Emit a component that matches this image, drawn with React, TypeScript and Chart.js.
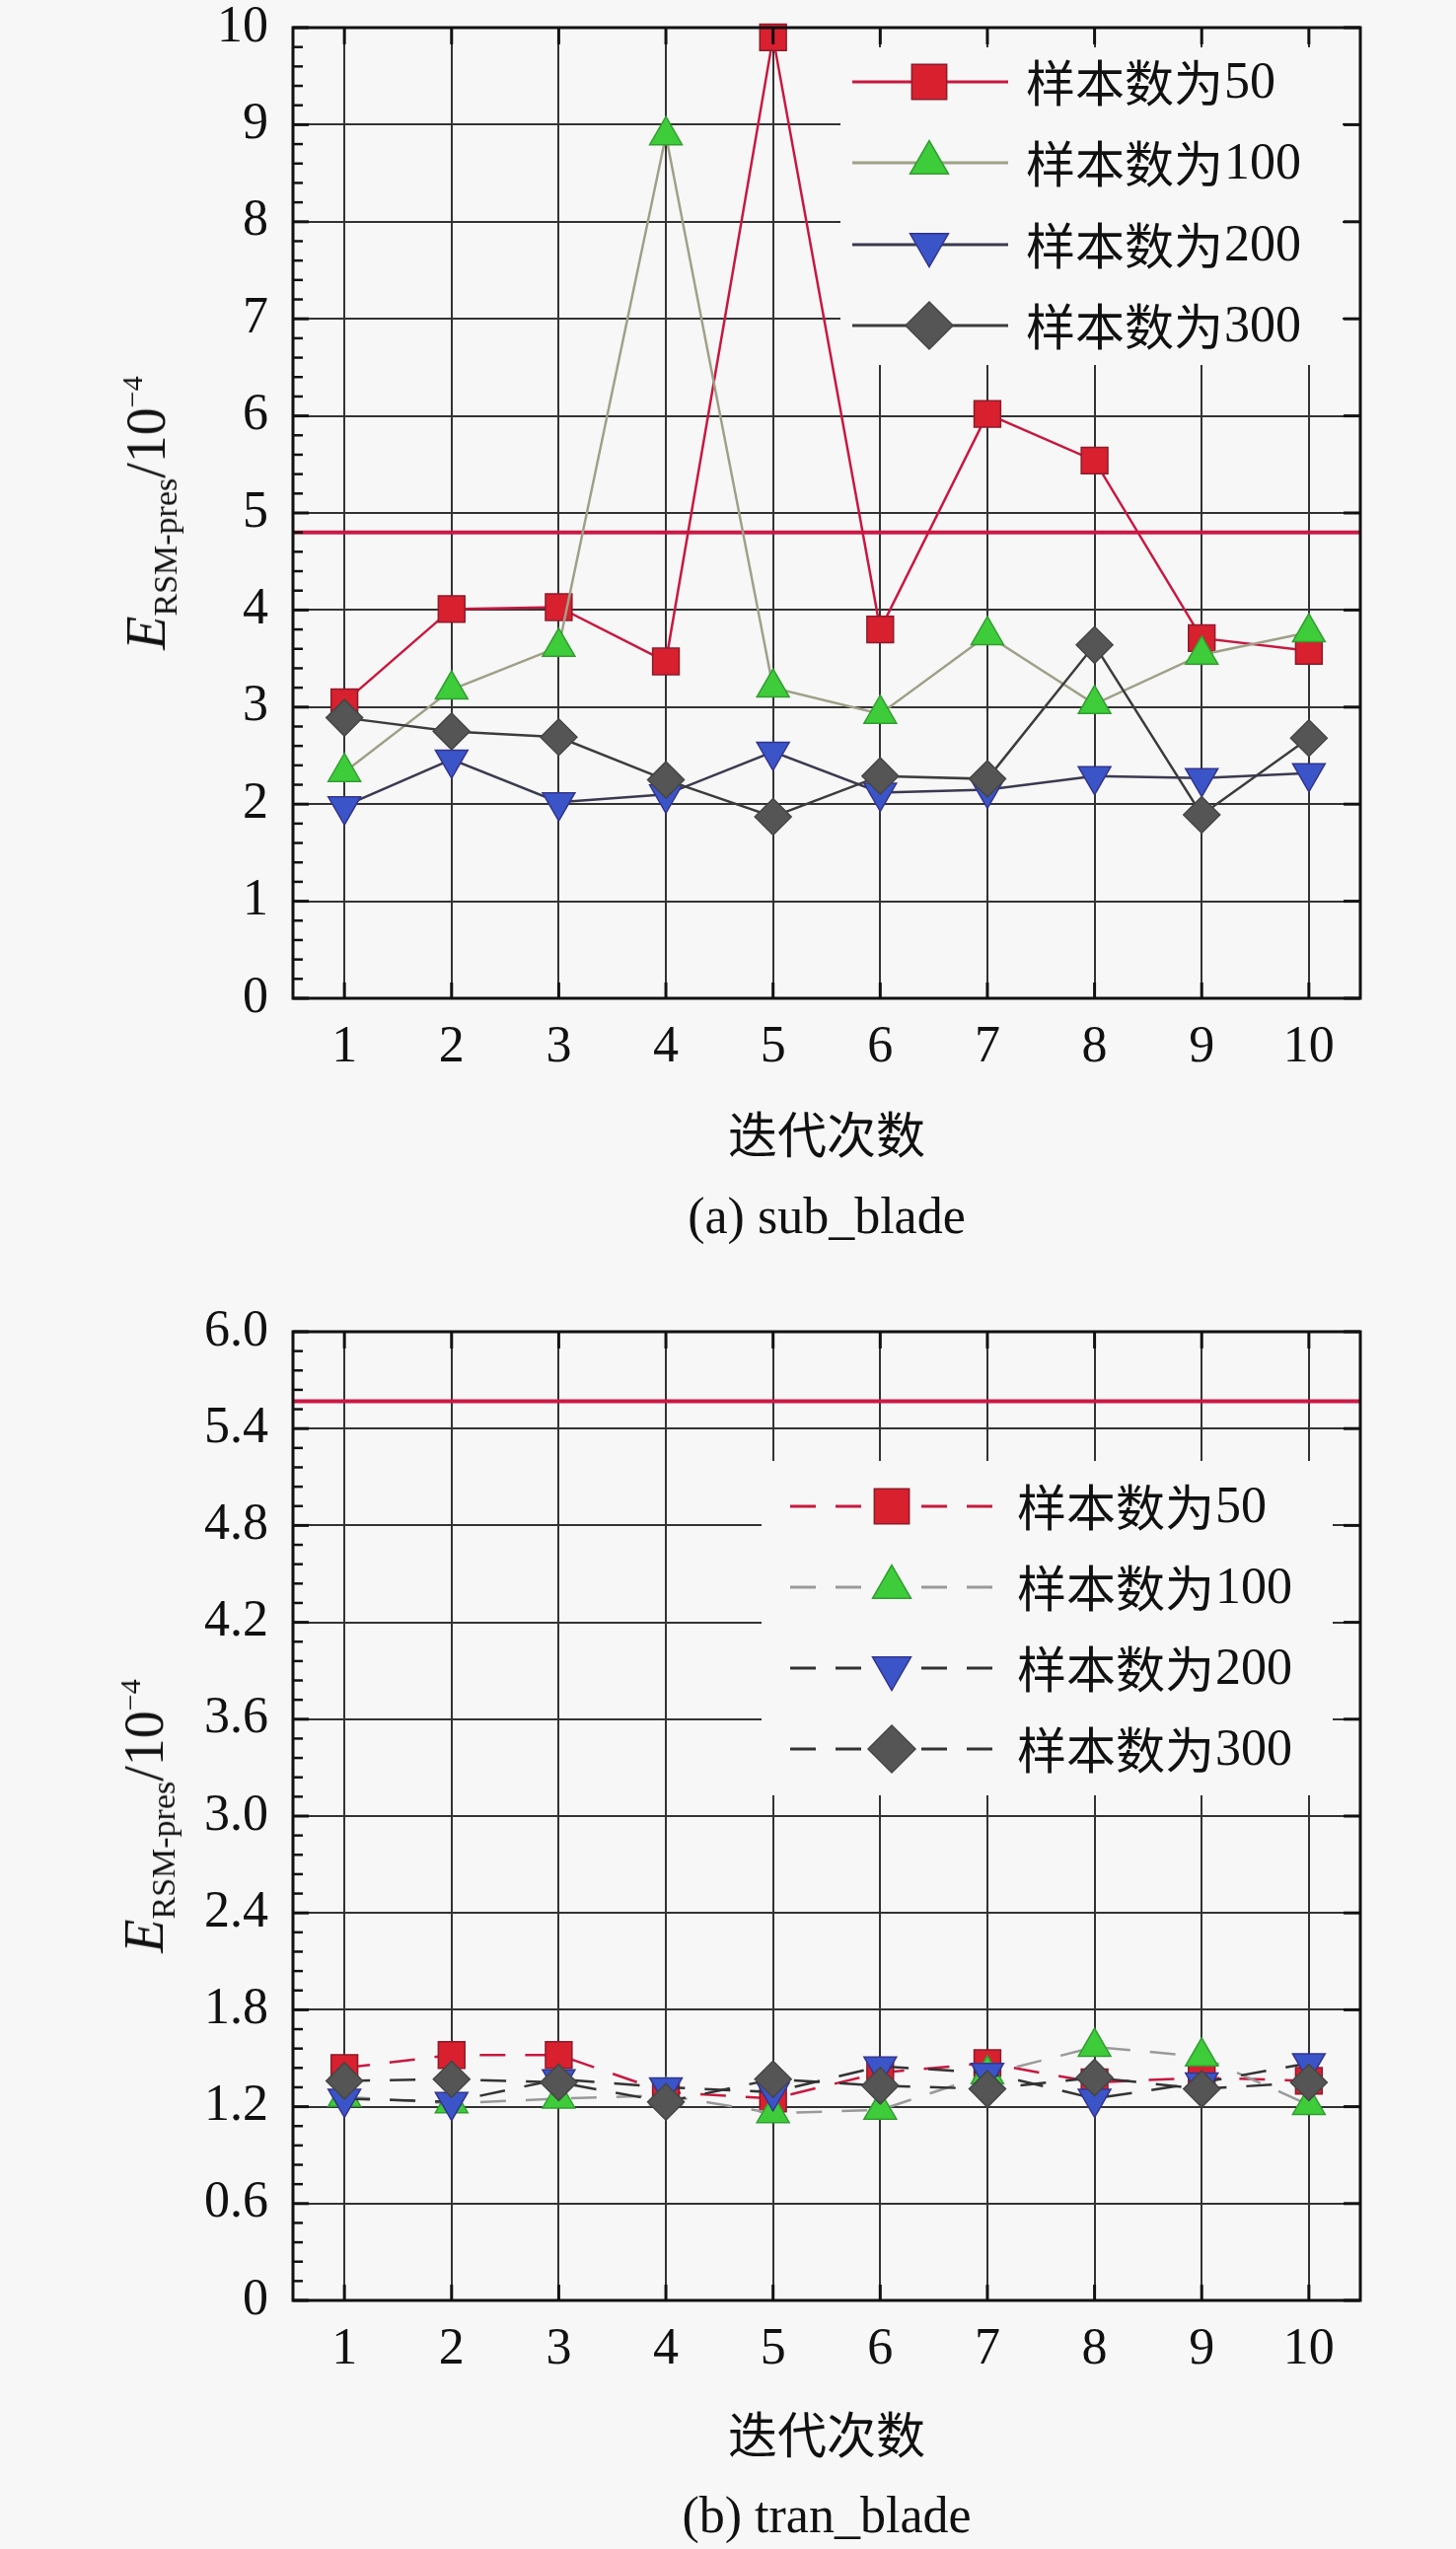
import React, { useEffect, useRef } from 'react';
import { Chart, registerables } from 'chart.js';
import { drawPoint } from 'chart.js/helpers';

Chart.register(...registerables);

// iteration number on x
const ITERATIONS = [1, 2, 3, 4, 5, 6, 7, 8, 9, 10];
const SERIES_LABELS = ['样本数为50', '样本数为100', '样本数为200', '样本数为300'];

// (a) sub_blade, unit 1e-4
const SUB_50 = [3.05, 4.01, 4.03, 3.47, 9.9, 3.8, 6.02, 5.54, 3.71, 3.58];
const SUB_100 = [2.33, 3.18, 3.62, 8.89, 3.2, 2.93, 3.74, 3.03, 3.54, 3.77];
const SUB_200 = [1.98, 2.46, 2.02, 2.1, 2.54, 2.12, 2.15, 2.29, 2.27, 2.32];
const SUB_300 = [2.89, 2.75, 2.69, 2.25, 1.87, 2.29, 2.26, 3.64, 1.89, 2.68];
const SUB_LIMIT = 4.8;
const SUB_Y_TICKS = [0, 1, 2, 3, 4, 5, 6, 7, 8, 9, 10];
const SUB_Y_LABELS = ['0', '1', '2', '3', '4', '5', '6', '7', '8', '9', '10'];

// (b) tran_blade
const TRAN_50 = [1.44, 1.52, 1.52, 1.29, 1.25, 1.41, 1.47, 1.35, 1.38, 1.36];
const TRAN_100 = [1.26, 1.22, 1.25, 1.27, 1.16, 1.18, 1.4, 1.57, 1.51, 1.21];
const TRAN_200 = [1.25, 1.23, 1.37, 1.32, 1.29, 1.45, 1.41, 1.25, 1.35, 1.47];
const TRAN_300 = [1.36, 1.37, 1.35, 1.23, 1.37, 1.33, 1.31, 1.38, 1.31, 1.35];
const TRAN_LIMIT = 5.57;
const TRAN_Y_TICKS = [0, 0.6, 1.2, 1.8, 2.4, 3.0, 3.6, 4.2, 4.8, 5.4, 6.0];
const TRAN_Y_LABELS = ['0', '0.6', '1.2', '1.8', '2.4', '3.0', '3.6', '4.2', '4.8', '5.4', '6.0'];

const BG = '#f7f7f7';
const SERIF = '"Liberation Serif", "Noto Sans CJK SC", serif';
const CJK = '"Noto Sans CJK SC", sans-serif';

const MARKERS = [
    { style: 'rect', fill: '#d8202f', edge: '#8e1b2b', rot: 0, r: 19, legendR: 25 },
    { style: 'triangle', fill: '#3fcc3a', edge: '#2f9e2f', rot: 0, r: 19, legendR: 22.5 },
    { style: 'triangle', fill: '#3b55c9', edge: '#34348e', rot: 180, r: 19, legendR: 22.5 },
    { style: 'rectRot', fill: '#555555', edge: '#454545', rot: 0, r: 18.5, legendR: 24 },
];

interface LegendLayout {
    box: [number, number, number, number];
    rows: number[];
    lineX0: number;
    lineX1: number;
    markerX: number;
    textX: number;
}

interface PanelProps {
    top: number;
    height: number;
    padTop: number;
    plotH: number;
    series: number[][];
    lineColors: string[];
    dash: number[];
    limit: number;
    yTicks: number[];
    yLabels: string[];
    legend: LegendLayout;
}

const line = (ctx: CanvasRenderingContext2D, x0: number, y0: number, x1: number, y1: number) => {
    ctx.beginPath();
    ctx.moveTo(x0, y0);
    ctx.lineTo(x1, y1);
    ctx.stroke();
};

const Panel: React.FC<PanelProps> = (p) => {
    const ref = useRef<HTMLCanvasElement>(null);

    useEffect(() => {
        if (!ref.current) return;
        const lg = p.legend;

        const decor = {
            id: 'decor',
            beforeDatasetsDraw(chart: any) {
                const { ctx, chartArea, scales } = chart;
                ctx.save();
                // limit line
                const ly = scales.y.getPixelForValue(p.limit);
                ctx.strokeStyle = '#cc1845';
                ctx.lineWidth = 4;
                line(ctx, chartArea.left, ly, chartArea.right, ly);

                // legend
                ctx.fillStyle = BG;
                ctx.fillRect(lg.box[0], lg.box[1], lg.box[2], lg.box[3]);
                chart.data.datasets.forEach((ds: any, i: number) => {
                    const ry = lg.rows[i];
                    ctx.strokeStyle = ds.borderColor;
                    ctx.lineWidth = 3;
                    ctx.setLineDash(ds.borderDash || []);
                    line(ctx, lg.lineX0, ry, lg.markerX, ry);
                    line(ctx, lg.lineX1, ry, lg.markerX, ry);
                    ctx.setLineDash([]);
                    ctx.fillStyle = ds.pointBackgroundColor;
                    ctx.strokeStyle = ds.pointBorderColor;
                    ctx.lineWidth = ds.pointBorderWidth;
                    drawPoint(ctx, {
                        pointStyle: ds.pointStyle,
                        rotation: ds.pointRotation,
                        radius: MARKERS[i].legendR,
                        borderWidth: ds.pointBorderWidth,
                    } as any, lg.markerX, ry);

                    // Chinese part and the number drawn with their own fonts
                    const label: string = ds.label;
                    const m = label.match(/^(\D*)(\d*)$/);
                    const han = m ? m[1] : label;
                    const num = m ? m[2] : '';
                    ctx.fillStyle = '#111';
                    ctx.textAlign = 'left';
                    ctx.textBaseline = 'middle';
                    ctx.font = `50px ${CJK}`;
                    ctx.fillText(han, lg.textX, ry + 1);
                    const w = ctx.measureText(han).width;
                    ctx.font = `52px ${SERIF}`;
                    ctx.fillText(num, lg.textX + w + 1, ry + 2);
                });
                ctx.restore();
            },
            afterDraw(chart: any) {
                const { ctx, chartArea, scales } = chart;
                const { left, right, top, bottom } = chartArea;
                ctx.save();
                ctx.strokeStyle = '#111';
                ctx.lineWidth = 3;
                ctx.strokeRect(left, top, right - left, bottom - top);
                scales.x.ticks.forEach((t: any) => {
                    const x = scales.x.getPixelForValue(t.value);
                    line(ctx, x, bottom, x, bottom - 16);
                    line(ctx, x, top, x, top + 17);
                });
                scales.y.ticks.forEach((t: any) => {
                    const y = scales.y.getPixelForValue(t.value);
                    line(ctx, left, y, left + 16, y);
                    line(ctx, right, y, right - 17, y);
                });
                ctx.lineWidth = 2.5;
                for (let i = 0; i < p.yTicks.length - 1; i++) {
                    const step = (p.yTicks[i + 1] - p.yTicks[i]) / 5;
                    for (let k = 1; k < 5; k++) {
                        const y = scales.y.getPixelForValue(p.yTicks[i] + k * step);
                        line(ctx, left, y, left + 10, y);
                    }
                }
                ctx.restore();
            },
        };

        const chart = new Chart(ref.current, {
            type: 'line',
            data: {
                datasets: p.series.map((vals, i) => ({
                    label: SERIES_LABELS[i],
                    data: ITERATIONS.map((x, j) => ({ x, y: vals[j] })),
                    borderColor: p.lineColors[i],
                    borderWidth: 2.5,
                    borderDash: p.dash,
                    pointStyle: MARKERS[i].style as any,
                    pointRotation: MARKERS[i].rot,
                    pointRadius: MARKERS[i].r,
                    pointBackgroundColor: MARKERS[i].fill,
                    pointBorderColor: MARKERS[i].edge,
                    pointBorderWidth: 1.5,
                    tension: 0,
                    clip: false as any,
                    order: 4 - i,
                })),
            },
            options: {
                responsive: false,
                animation: false,
                events: [],
                layout: { padding: { left: 0, top: p.padTop, right: 97, bottom: 0 } },
                plugins: { legend: { display: false }, tooltip: { enabled: false } },
                scales: {
                    x: {
                        type: 'linear',
                        min: 0.52,
                        max: 10.48,
                        afterBuildTicks: (s: any) => {
                            s.ticks = ITERATIONS.map((v) => ({ value: v }));
                        },
                        afterFit: (s: any) => {
                            s.height = p.height - p.padTop - p.plotH;
                            s.paddingLeft = 0;
                            s.paddingRight = 0;
                        },
                        ticks: {
                            autoSkip: false,
                            maxRotation: 0,
                            padding: 19,
                            color: '#111',
                            font: { family: SERIF, size: 52 },
                            callback: (v: any) => String(v),
                        },
                        grid: { color: '#333', lineWidth: 2, drawTicks: false },
                        border: { display: false },
                    },
                    y: {
                        type: 'linear',
                        min: p.yTicks[0],
                        max: p.yTicks[p.yTicks.length - 1],
                        afterBuildTicks: (s: any) => {
                            s.ticks = p.yTicks.map((v) => ({ value: v }));
                        },
                        afterFit: (s: any) => {
                            s.width = 297;
                            s.paddingTop = 0;
                            s.paddingBottom = 0;
                        },
                        ticks: {
                            autoSkip: false,
                            padding: 25,
                            color: '#111',
                            font: { family: SERIF, size: 52 },
                            callback: (_v: any, i: number) => p.yLabels[i],
                        },
                        grid: { color: '#333', lineWidth: 2, drawTicks: false },
                        border: { display: false },
                    },
                },
            },
            plugins: [decor],
        });
        return () => chart.destroy();
    }, []);

    return (
        <canvas
            ref={ref}
            width={1476}
            height={p.height}
            style={{ position: 'absolute', left: 0, top: p.top, width: 1476, height: p.height }}
        />
    );
};

const centered = (x: number, y: number, extra: React.CSSProperties = {}): React.CSSProperties => ({
    position: 'absolute',
    left: x,
    top: y,
    transform: 'translate(-50%, -50%)',
    whiteSpace: 'nowrap',
    lineHeight: 1,
    color: '#111',
    ...extra,
});

const YTitle: React.FC<{ x: number; y: number }> = ({ x, y }) => (
    <div style={centered(x, y, { transform: 'translate(-50%, -50%) rotate(-90deg)', fontFamily: SERIF, fontSize: 56 })}>
        <i>E</i>
        <span style={{ fontSize: 34, verticalAlign: '-12px' }}>RSM-pres</span>
        /10
        <span style={{ fontSize: 30, verticalAlign: '23px' }}>−4</span>
    </div>
);

const App: React.FC = () => (
    <div style={{ position: 'absolute', left: 0, top: 0, width: 1476, height: 2584, background: BG, overflow: 'hidden' }}>
        <Panel
            top={0}
            height={1270}
            padTop={28}
            plotH={984}
            series={[SUB_50, SUB_100, SUB_200, SUB_300]}
            lineColors={['#c8183f', '#a0a088', '#3a3a50', '#3c3c3c']}
            dash={[]}
            limit={SUB_LIMIT}
            yTicks={SUB_Y_TICKS}
            yLabels={SUB_Y_LABELS}
            legend={{ box: [852, 48, 509, 322], rows: [83, 165, 248, 330], lineX0: 864, lineX1: 1022, markerX: 942, textX: 1040 }}
        />
        <Panel
            top={1270}
            height={1314}
            padTop={80}
            plotH={982}
            series={[TRAN_50, TRAN_100, TRAN_200, TRAN_300]}
            lineColors={['#c8183f', '#9a9a9a', '#333333', '#333333']}
            dash={[26, 20]}
            limit={TRAN_LIMIT}
            yTicks={TRAN_Y_TICKS}
            yLabels={TRAN_Y_LABELS}
            legend={{ box: [772, 211, 579, 339], rows: [257, 339, 421, 503], lineX0: 801, lineX1: 1006, markerX: 904, textX: 1031 }}
        />
        <YTitle x={152} y={520} />
        <div style={centered(838, 1147, { fontFamily: CJK, fontSize: 50 })}>迭代次数</div>
        <div style={centered(838, 1233, { fontFamily: SERIF, fontSize: 52 })}>(a) sub_blade</div>
        <YTitle x={150} y={1841} />
        <div style={centered(838, 2465, { fontFamily: CJK, fontSize: 50 })}>迭代次数</div>
        <div style={centered(838, 2550, { fontFamily: SERIF, fontSize: 52 })}>(b) tran_blade</div>
    </div>
);

export default App;
